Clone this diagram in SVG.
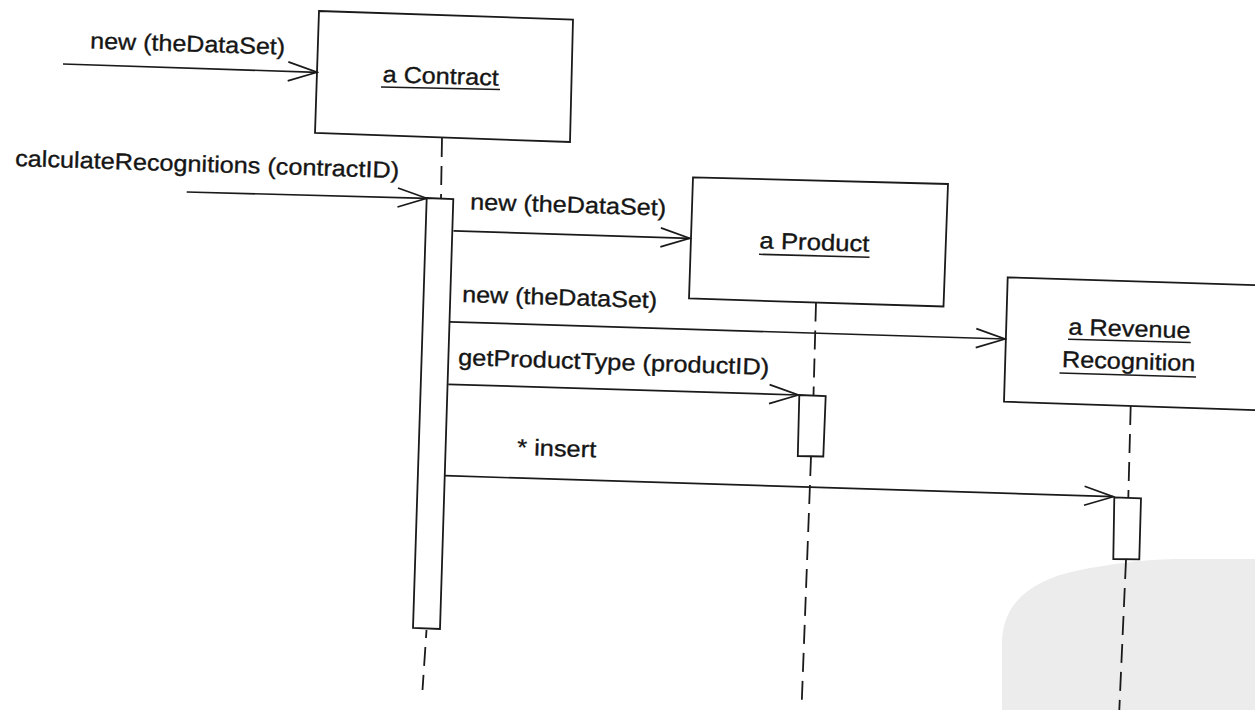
<svg xmlns="http://www.w3.org/2000/svg" width="1255" height="710" viewBox="0 0 1255 710">
<style>
  .bx{fill:#fff;stroke:#1a1a1a;stroke-width:1.8;stroke-linejoin:miter}
  .act{fill:#fff;stroke:#1a1a1a;stroke-width:1.8}
  .life{stroke:#1a1a1a;stroke-width:1.8;stroke-dasharray:19 9;fill:none}
  .msg{stroke:#1a1a1a;stroke-width:1.7;fill:none;marker-end:url(#open)}
  .ul{stroke:#1a1a1a;stroke-width:1.6}
  text{font-family:"Liberation Sans",Arial,Helvetica,sans-serif;font-size:23px;fill:#151515;stroke:#151515;stroke-width:0.35}
</style>
<defs>
  <marker id="open" viewBox="-32 -12 34 24" refX="0" refY="0" markerWidth="34" markerHeight="24" markerUnits="userSpaceOnUse" orient="auto">
    <path d="M-29,-9.5 L0,0 L-29,9.5" fill="none" stroke="#1a1a1a" stroke-width="1.7"/>
  </marker>
</defs>
<rect width="1255" height="710" fill="#fff"/>
<path id="watermark" d="M1002,710 L1002,640 C1004,603 1030,580 1080,570 C1110,564 1140,560 1175,559 L1255,559 L1255,710 Z" fill="#ececec"/>

<g id="node-contract">
  <polygon class="bx" points="319,11 573,19.5 570,142 315,133"/>
  <text x="382.5" y="82" textLength="116" lengthAdjust="spacingAndGlyphs" transform="rotate(1.8 382.5 82)">a Contract</text>
  <line class="ul" x1="381" y1="87" x2="500" y2="89.5"/>
  <line class="life" x1="442" y1="138" x2="441" y2="198"/>
  <polygon class="act" points="426.7,198 453.3,199 440,629 413,628"/>
  <line class="life" x1="426.5" y1="630" x2="422.5" y2="690" stroke-dashoffset="11"/>
</g>

<g id="node-product">
  <polygon class="bx" points="693,177.3 948,184 943.5,306.5 689,298.5"/>
  <text x="759.3" y="248.3" textLength="110" lengthAdjust="spacingAndGlyphs" transform="rotate(1.8 759.3 248.3)">a Product</text>
  <line class="ul" x1="759" y1="254.3" x2="869.5" y2="257.2"/>
  <line class="life" x1="816" y1="302.5" x2="813.5" y2="395"/>
  <polygon class="act" points="799.3,395 825.7,396 823.3,456.5 797.8,456"/>
  <line class="life" x1="811" y1="457" x2="801.7" y2="704"/>
</g>

<g id="node-revenue">
  <polygon class="bx" points="1007.7,277.3 1263,285.3 1259,410.2 1004,401.7"/>
  <text x="1068.3" y="334.5" textLength="122" lengthAdjust="spacingAndGlyphs" transform="rotate(1.8 1068.3 334.5)">a Revenue</text>
  <line class="ul" x1="1068" y1="339.3" x2="1190.7" y2="342.5"/>
  <text x="1061.7" y="367" textLength="133.5" lengthAdjust="spacingAndGlyphs" transform="rotate(1.8 1061.7 367)">Recognition</text>
  <line class="ul" x1="1059.5" y1="373" x2="1196" y2="377"/>
  <line class="life" x1="1130.7" y1="406" x2="1128.3" y2="497.5"/>
  <polygon class="act" points="1114.3,497.3 1141,498.3 1139.3,559.3 1113.3,559"/>
  <line class="life" x1="1126" y1="560" x2="1119.3" y2="710"/>
</g>

<g id="connectors">
  <line class="msg" x1="63" y1="64" x2="317" y2="72.3"/>
  <text x="90" y="48.5" textLength="195" lengthAdjust="spacingAndGlyphs" transform="rotate(1.8 90 48.5)">new (theDataSet)</text>

  <line class="msg" x1="186.7" y1="192" x2="426.7" y2="198.3"/>
  <text x="15" y="166" textLength="384" lengthAdjust="spacingAndGlyphs" transform="rotate(1.8 15 166)">calculateRecognitions (contractID)</text>

  <line class="msg" x1="453.5" y1="230.8" x2="689.6" y2="238.3"/>
  <text x="470" y="209.5" textLength="196" lengthAdjust="spacingAndGlyphs" transform="rotate(1.8 470 209.5)">new (theDataSet)</text>

  <line class="msg" x1="449.5" y1="321.8" x2="1005" y2="339"/>
  <text x="462" y="302" textLength="195" lengthAdjust="spacingAndGlyphs" transform="rotate(1.8 462 302)">new (theDataSet)</text>

  <line class="msg" x1="448.3" y1="384.3" x2="798.3" y2="395"/>
  <text x="458" y="365" textLength="311" lengthAdjust="spacingAndGlyphs" transform="rotate(1.8 458 365)">getProductType (productID)</text>

  <line class="msg" x1="445" y1="475.7" x2="1113.3" y2="496.7"/>
  <text x="517" y="455" textLength="79" lengthAdjust="spacingAndGlyphs" transform="rotate(1.8 517 455)">* insert</text>
</g>
</svg>
